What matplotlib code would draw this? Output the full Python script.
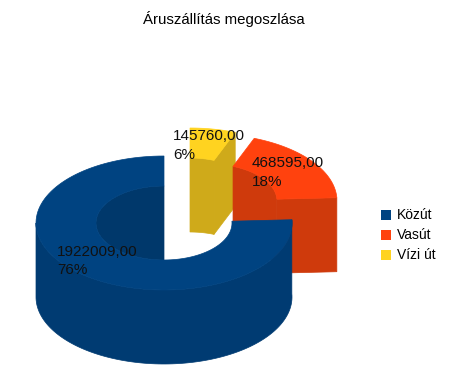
"""Exploded 3D donut chart of freight shares, drawn by hand on a pixel-sized axes."""

import matplotlib

matplotlib.use("Agg")
import matplotlib.pyplot as plt
import numpy as np

plt.rcParams["font.family"] = ["Liberation Sans", "DejaVu Sans"]

title = "Áruszállítás megoszlása"
categories = ["Közút", "Vasút", "Vízi út"]
values = [1922009.00, 468595.00, 145760.00]
top_colors = ["#004381", "#ff420e", "#ffd320"]
side_colors = ["#003b72", "#cf3a0c", "#cfaa1a"]
inner_colors = ["#00386b", "#cf3a0c", "#cfaa1a"]

# centre of each slice's top face, in pixels
centers = [(164, 223), (209, 201), (190, 195)]
label_pos = [(57, 261), (252, 172.5), (173, 145.5)]
RX, RY = 128, 67
IRX, IRY = 68, 37
DEPTH = 74


def arc(center, rx, ry, a0, a1, dy=0, n=120):
    t = np.radians(np.linspace(a0, a1, n))
    return np.column_stack([center[0] + rx * np.cos(t), center[1] - ry * np.sin(t) + dy])


def poly(ax, pts, color, z):
    # thin same-colour edge hides antialiasing seams between faces
    ax.fill(pts[:, 0], pts[:, 1], facecolor=color, edgecolor=color, lw=0.5, zorder=z)


fig = plt.figure(figsize=(4.52, 3.87), dpi=100)
ax = fig.add_axes([0, 0, 1, 1])
ax.set_xlim(0, 452)
ax.set_ylim(387, 0)
ax.axis("off")

total = sum(values)
sweeps = [v / total * 360 for v in values]
starts = [90, 90 + sweeps[0], 90 + sweeps[0] + sweeps[1]]

# back slices first, blue goes over them
for i, z in [(2, 1), (1, 2), (0, 3)]:
    c = centers[i]
    a0, a1 = starts[i], starts[i] + sweeps[i]

    if i == 0:
        # back of the hole, then front outer wall
        poly(ax, arc(c, IRX, IRY, 90, 270), inner_colors[i], z)
        top = arc(c, RX, RY, 180, a1)
        bot = arc(c, RX, RY, a1, 180, dy=DEPTH)
        poly(ax, np.vstack([top, bot]), side_colors[i], z)
    else:
        # concave inner wall
        top = arc(c, IRX, IRY, a0, a1)
        bot = arc(c, IRX, IRY, a1, a0, dy=DEPTH)
        poly(ax, np.vstack([top, bot]), inner_colors[i], z)
        # cut face that looks at the viewer
        p_in = arc(c, IRX, IRY, a0, a0, n=1)
        p_out = arc(c, RX, RY, a0, a0, n=1)
        face = np.vstack([p_in, p_out, p_out + [0, DEPTH], p_in + [0, DEPTH]])
        poly(ax, face, side_colors[i], z)

    # top face
    outer = arc(c, RX, RY, a0, a1)
    inner = arc(c, IRX, IRY, a1, a0)
    poly(ax, np.vstack([outer, inner]), top_colors[i], z + 0.5)

for v, pos in zip(values, label_pos):
    txt = f"{v:.2f}".replace(".", ",") + f"\n{v / total * 100:.0f}%"
    ax.text(pos[0], pos[1], txt, fontsize=11, color="#111111", ha="left", va="center",
            linespacing=1.4, zorder=10)

ax.text(224, 19, title, fontsize=10.8, ha="center", va="center", color="black")

for i, name in enumerate(categories):
    y = 215 + 20 * i
    ax.add_patch(plt.Rectangle((381, y - 5), 10.5, 9.5, color=top_colors[i], lw=0))
    ax.text(397, y, name, fontsize=10, ha="left", va="center", color="black")

fig.savefig("out.png", dpi=100)
plt.close(fig)
